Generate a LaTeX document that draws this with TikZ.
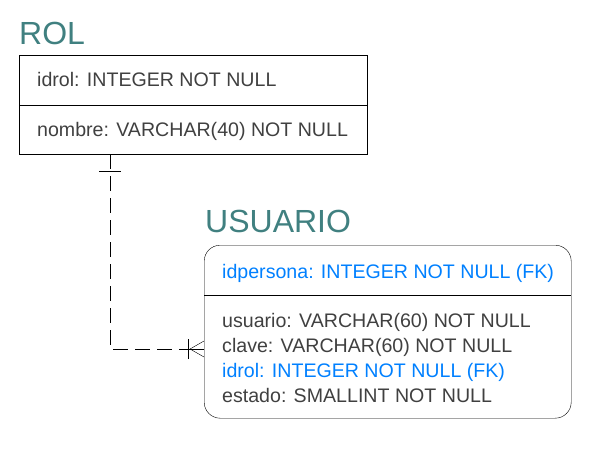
\documentclass[tikz,border=0pt]{standalone}
\usepackage{fontspec}
\setmainfont{Liberation Sans}
\usetikzlibrary{positioning}
\definecolor{titlecol}{RGB}{64,128,128}
\definecolor{fieldcol}{RGB}{64,64,64}
\definecolor{fkcol}{RGB}{0,128,255}
\tikzset{
x=1pt, y=-1pt, % pixel-like coordinates
line width=1pt,
}
\tikzstyle{title} = [anchor=base west, inner sep=0pt, text=titlecol,
    font=\fontsize{32}{32}\selectfont]
\tikzstyle{field} = [anchor=base west, inner sep=0pt, text=fieldcol,
    font=\fontsize{19.6}{19.6}\selectfont]
\tikzstyle{fkfield} = [field, text=fkcol]
\tikzstyle{entity} = [draw, anchor=north west, inner sep=0pt]
\tikzstyle{relation} = [dash pattern=on 15pt off 7pt]

\begin{document}
\begin{tikzpicture}
\useasboundingbox (0,0) rectangle (613,449);
% ROL
\node [title] (rol) at (19,45) {ROL};
\node [entity, minimum width=348pt, minimum height=99pt] (rolbox) at (19,55) {};
\draw (rolbox.west |- 0,105) -- (rolbox.east |- 0,105);
\node [field] (idrol) at (37,87) {idrol: INTEGER NOT NULL};
\node [field] (nombre) at (37,137) {nombre: VARCHAR(40) NOT NULL};

% USUARIO
\node [title] (usuario) at (205,233) {USUARIO};
\node [entity, rounded corners=16pt, minimum width=367pt, minimum height=173pt] (usrbox) at (204,245) {};
\draw (usrbox.west |- 0,295) -- (usrbox.east |- 0,295);
\node [fkfield] (idpersona) at (222,278) {idpersona: INTEGER NOT NULL (FK)};
\node [field] (usr) at (222,327) {usuario: VARCHAR(60) NOT NULL};
\node [field] (clave) at (222,352) {clave: VARCHAR(60) NOT NULL};
\node [fkfield] (fkrol) at (222,377) {idrol: INTEGER NOT NULL (FK)};
\node [field] (estado) at (222,402) {estado: SMALLINT NOT NULL};

% relation ROL 1 -- N USUARIO
\coordinate (one) at (110,171);
\coordinate (bar) at (188,349);
\coordinate (foot) at (190,349);
\coordinate (fk) at (usrbox.west |- bar);
\draw [relation] (rolbox.south -| one) |- (bar);
\draw (bar) -- (fk);
\draw ([xshift=-11pt]one) -- ([xshift=11pt]one);
\draw ([yshift=-10pt]bar) -- ([yshift=10pt]bar);
\draw ([yshift=-8pt]fk) -- (foot) -- ([yshift=8pt]fk);
\end{tikzpicture}
\end{document}
